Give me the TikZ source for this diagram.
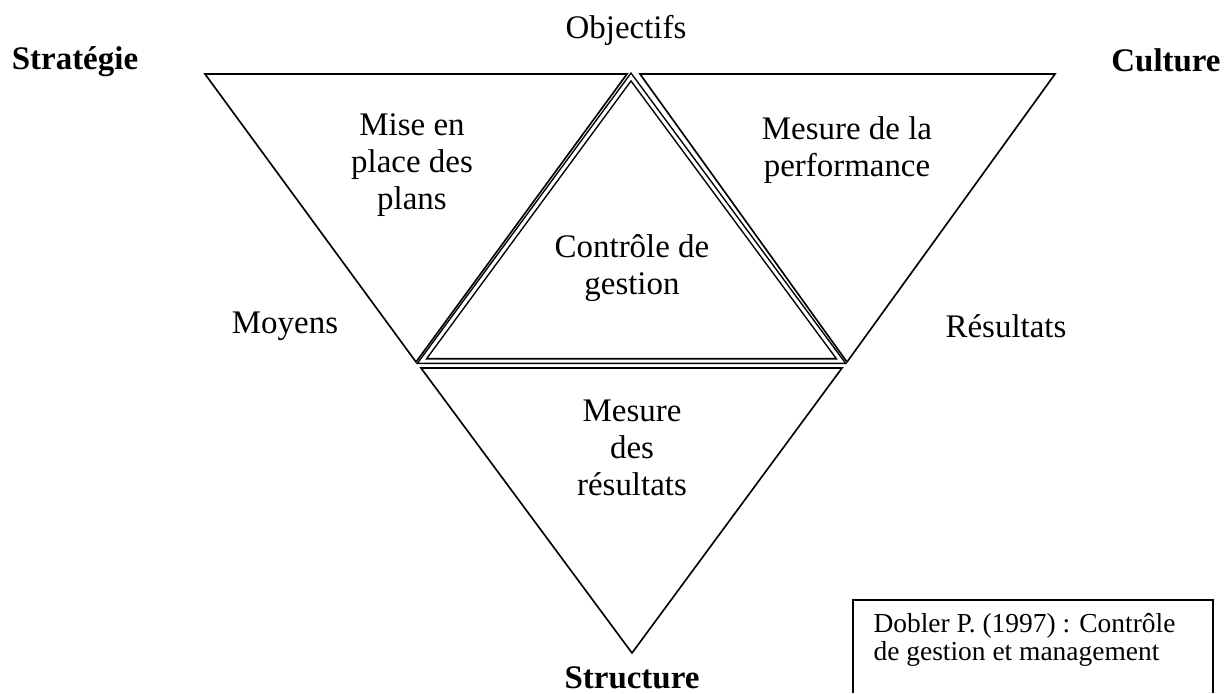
\documentclass[tikz,border=0pt]{standalone}
\usepackage{fontspec}
\setmainfont{Liberation Serif}
\usepackage{tikz}
\usetikzlibrary{positioning}

\tikzset{
  lbl/.style={align=center, font=\fontsize{12}{13.5}\selectfont, inner sep=0pt},
  pole/.style={font=\fontsize{12}{13}\selectfont\bfseries, inner sep=0pt},
  tri/.style={black, line width=0.6pt, line join=miter},
}

\begin{document}
\begin{tikzpicture}[x=0.0128cm, y=-0.0128cm]
\useasboundingbox (0,0) rectangle (1224,693);
% triangles
\draw[tri] (205,74) -- (627,74) -- (416,362) -- cycle;
\draw[tri] (640,74) -- (1055,74) -- (847,362) -- cycle;
\draw[tri] (421,368) -- (842,368) -- (632,653) -- cycle;
\draw[tri, line width=0.55pt, double, double distance=1.1pt] (631,77) -- (841,361) -- (422,361) -- cycle;
% labels
\node[pole] (strategie) at (75,62) {Stratégie};
\node[pole] (culture) at (1166,60) {Culture};
\node[pole] (structure) at (632,678) {Structure};
\node[lbl] (objectifs) at (626,30) {Objectifs};
\node[lbl] (moyens) at (285,326) {Moyens};
\node[lbl] (resultats) at (1006,326) {Résultats};
\node[lbl] (plans) at (412,165) {Mise en\\place des\\plans};
\node[lbl] (perf) at (847,150) {Mesure de la\\performance};
\node[lbl] (cdg) at (632,268) {Contrôle de\\gestion};
\node[lbl] (mesres) at (632,448) {Mesure\\des\\résultats};
% source
\node[align=left, anchor=base west, inner sep=0pt, font=\fontsize{10}{9}\selectfont] (source) at (873,660) {Dobler P. (1997) : Contrôle\\de gestion et management};
\draw[black, line width=0.6pt] (853,693) -- (853,600) -- (1213,600) -- (1213,693);
\end{tikzpicture}
\end{document}
